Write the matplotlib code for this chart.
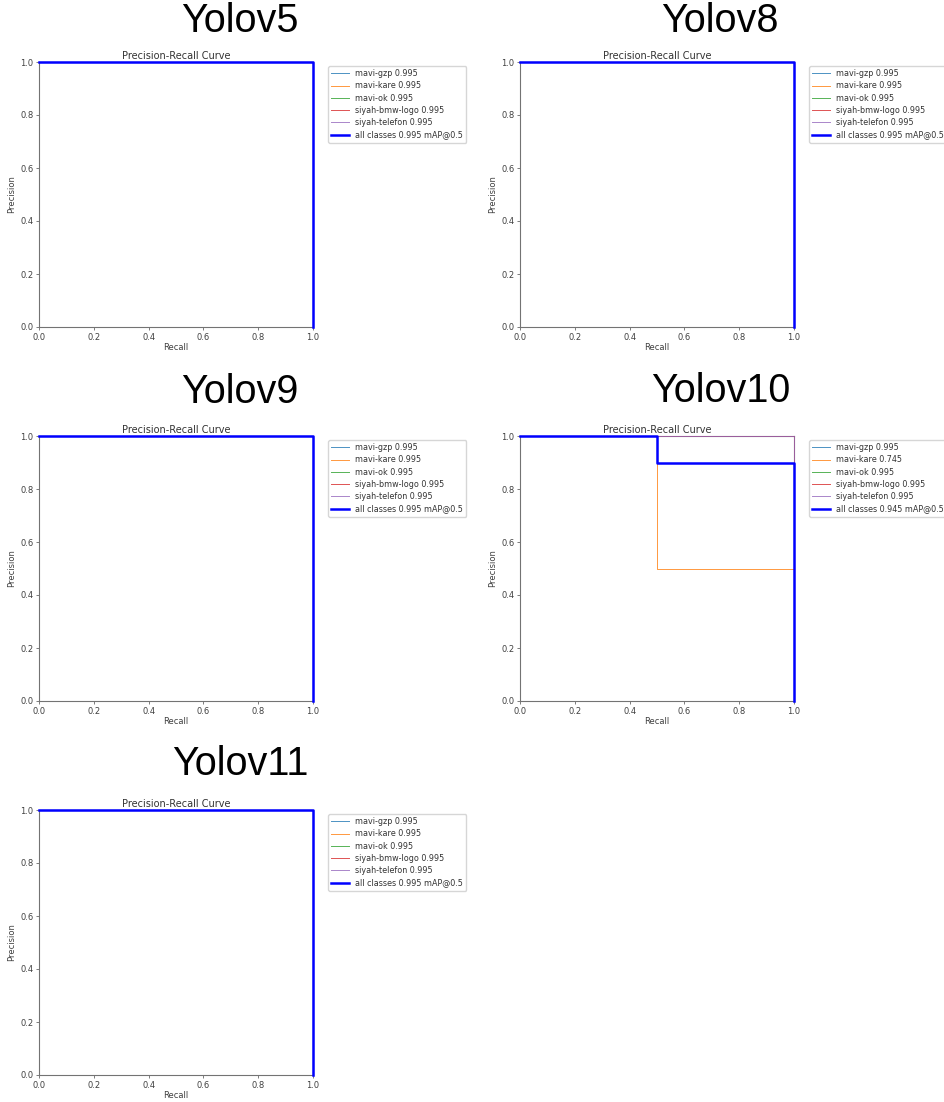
import numpy as np
import matplotlib
matplotlib.use("Agg")
import matplotlib.pyplot as plt

# class names and the AP shown in each legend
classes = ["mavi-gzp", "mavi-kare", "mavi-ok", "siyah-bmw-logo", "siyah-telefon"]
class_colors = ["#1f77b4", "#ff7f0e", "#2ca02c", "#d62728", "#9467bd"]
models = ["Yolov5", "Yolov8", "Yolov9", "Yolov10", "Yolov11"]
ap = {
	"Yolov5": [0.995, 0.995, 0.995, 0.995, 0.995],
	"Yolov8": [0.995, 0.995, 0.995, 0.995, 0.995],
	"Yolov9": [0.995, 0.995, 0.995, 0.995, 0.995],
	"Yolov10": [0.995, 0.745, 0.995, 0.995, 0.995],
	"Yolov11": [0.995, 0.995, 0.995, 0.995, 0.995],
}
map50 = {"Yolov5": 0.995, "Yolov8": 0.995, "Yolov9": 0.995, "Yolov10": 0.945, "Yolov11": 0.995}

# step curves (recall, precision)
perfect_r = [0.0, 1.0, 1.0]
perfect_p = [1.0, 1.0, 0.0]
kare10_r = [0.0, 0.5, 0.5, 1.0, 1.0]
kare10_p = [1.0, 1.0, 0.5, 0.5, 0.0]
all10_r = [0.0, 0.5, 0.5, 1.0, 1.0]
all10_p = [1.0, 1.0, 0.9, 0.9, 0.0]

curves = {m: [(perfect_r, perfect_p)] * 5 for m in models}
curves["Yolov10"] = [(perfect_r, perfect_p), (kare10_r, kare10_p), (perfect_r, perfect_p),
					 (perfect_r, perfect_p), (perfect_r, perfect_p)]
all_curves = {m: (perfect_r, perfect_p) for m in models}
all_curves["Yolov10"] = (all10_r, all10_p)

W, H = 944, 1102
fig = plt.figure(figsize=(W / 100, H / 100), dpi=100)

# pixel positions of the panels: left, top
pos = [(39, 62), (520, 62), (39, 436), (520, 436), (39, 810)]
title_pos = [(240, 21), (720, 21), (240, 392), (721, 391), (240, 764)]
aw, ah = 274, 265

for i, m in enumerate(models):
	l, t = pos[i]
	ax = fig.add_axes([l / W, 1 - (t + ah) / H, aw / W, ah / H])
	for k, c in enumerate(classes):
		r, p = curves[m][k]
		ax.plot(r, p, linewidth=0.7, color=class_colors[k], alpha=0.8,
				label="%s %.3f" % (c, ap[m][k]), zorder=3, clip_on=False)
	r, p = all_curves[m]
	ax.plot(r, p, linewidth=1.8, color="blue", label="all classes %.3f mAP@0.5" % map50[m],
			zorder=4, clip_on=False)

	ax.set_xlim(0, 1)
	ax.set_ylim(0, 1)
	ax.set_xlabel("Recall", fontsize=6, labelpad=1)
	ax.set_ylabel("Precision", fontsize=6, labelpad=3)
	ax.set_title("Precision-Recall Curve", fontsize=7, pad=2)
	ax.tick_params(labelsize=6, length=2.5, width=0.6, pad=1.5, color="0.4", labelcolor="0.25")
	for s in ax.spines.values():
		s.set_color("0.45")
		s.set_linewidth(0.8)
	ax.xaxis.label.set_color("0.25")
	ax.yaxis.label.set_color("0.25")
	ax.title.set_color("0.2")
	leg = ax.legend(bbox_to_anchor=(1.04, 1), loc="upper left", fontsize=5.8,
					handlelength=2.2, labelspacing=0.4, borderaxespad=0.5)
	for txt in leg.get_texts():
		txt.set_color("0.2")

	tx, ty = title_pos[i]
	fig.text(tx / W, 1 - ty / H, m, fontsize=28.5, family="Liberation Sans",
			 ha="center", va="center")

plt.savefig("out.png", dpi=100)
